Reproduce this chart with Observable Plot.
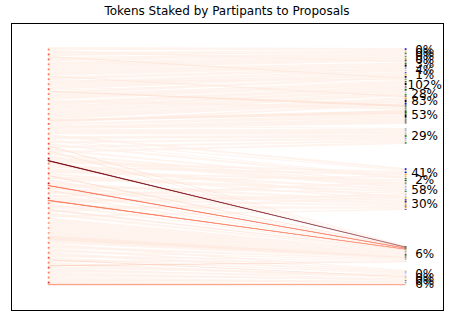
<!DOCTYPE html>
<html><head><meta charset="utf-8">
<script src="https://cdn.jsdelivr.net/npm/d3@7"></script>
<script src="https://cdn.jsdelivr.net/npm/@observablehq/plot@0.6"></script>
<style>
body{margin:0;background:#fff;font-family:"DejaVu Sans",sans-serif;}
#title{width:449px;height:22px;line-height:23px;text-align:center;font-size:12px;padding-left:5px;box-sizing:border-box;color:#000}
</style></head><body>
<div id="title">Tokens Staked by Partipants to Proposals</div>
<div id="chart"></div>
<script>
// Proposals, top to bottom on the right
const proposalLabels = ["0%","0%","0%","0%","3%","4%","1%","102%","28%","83%","53%","29%","41%","2%","58%","30%","6%","0%","0%","0%","6%"];
const proposalStake  = [3.5,3,3,3.5,6,4.5,6.5,13,5,9,19,16,9,6,14,13,16,6.5,2.5,2.5,3.5];
// Unstaked room left above some proposals (tokens)
const proposalRoomAbove = [1,0,0,0,0,0,0,0,0,0,0,4,24,0,0,0,36,8,0,0,0];
// Flows: [participant, proposal, tokens, intensity]
const flows = [
 [0,0,3],[0,4,2],
 [1,0,2],[1,1,2],[1,7,1,0.1],
 [2,1,2.3],[2,2,2],[2,6,0.7],
 [3,2,2.3],[3,3,2.7],
 [4,3,2.5],[4,4,2.5],
 [5,4,4],[5,9,1,0.08],
 [6,5,3.5],[6,7,1.5],
 [7,5,3],[7,6,2],
 [8,6,3],[8,7,1],[8,10,1,0.12],
 [9,6,3],[9,7,2],
 [10,7,3.5],[10,10,1.5],
 [11,7,4],[11,8,1],
 [12,7,3],[12,8,2],
 [13,8,3],[13,9,2],
 [14,9,3],[14,10,2,0.08],
 [15,9,2],[15,10,2],[15,11,1],
 [16,10,3],[16,11,2],
 [17,11,3],[17,12,2],
 [18,11,3],[18,12,1],[18,13,1],
 [19,11,2],[19,13,2],[19,16,1,0.12],
 [20,11,2],[20,14,2],[20,16,1,0.1],
 [21,11,2],[21,14,2],[21,16,1],
 [22,14,4.2],[22,16,0.8,0.97],
 [23,12,2],[23,15,3],
 [24,12,2],[24,14,3],
 [25,13,2],[25,15,2],[25,16,1,0.15],
 [26,14,3],[26,16,2],
 [27,12,1.4],[27,15,3],[27,16,0.6,0.5],
 [28,14,2],[28,15,2],[28,16,1,0.1],
 [29,15,3],[29,16,2],
 [30,13,2],[30,15,2.3],[30,16,0.7,0.45],
 [31,14,3],[31,16,2],
 [32,15,3],[32,16,2,0.08],
 [33,14,2],[33,16,3],
 [34,15,2],[34,16,3],
 [35,16,5],[36,16,5],[37,16,5],[38,16,5,0.08],
 [39,16,3],[39,17,2],
 [40,16,3],[40,17,2],
 [41,16,2],[41,17,3],
 [42,16,2],[42,17,2],[42,18,1,0.15],
 [43,16,2],[43,18,3],
 [44,16,1,0.2],[44,17,2],[44,19,2],
 [45,17,2],[45,19,3],
 [46,18,2],[46,20,3],
 [47,19,2],[47,20,2.2],[47,20,0.8,0.35]
];
const markerColors = ["#0000ff","#000000","#2e8b2e","#ffa500","#8a8a8a","#87a8ff","#000000","#006400","#c8c8c8"];

// ---- layout (derived from values) ----
const H = 238;
const nP = d3.max(flows, f => f[0]) + 1;
const F = flows.map(([p,j,v,s],i) => ({p, j, v, shade: s ?? 0.03, i}));
const T = d3.sum(F, f => f.v);
const kL = H / T;
let cursor = 0;
const partRows = [];
for (let p = 0; p < nP; p++) {
  const fs = F.filter(f => f.p === p).sort((a,b) => a.j - b.j || a.i - b.i);
  const y0 = cursor;
  for (const f of fs) { f.ly0 = cursor; cursor += f.v * kL; f.ly1 = cursor; }
  partRows.push({p, y0, y1: cursor, n: fs.length, maxShade: d3.max(fs, f => f.shade)});
}
const kR = (H - d3.sum(proposalRoomAbove)) / d3.sum(proposalStake);
let rc = 0;
const propRows = proposalLabels.map((label, j) => {
  rc += proposalRoomAbove[j] * kR;
  const y0 = rc, h = proposalStake[j] * kR; rc += h;
  const fs = F.filter(f => f.j === j).sort((a,b) => a.p - b.p || a.i - b.i);
  const tot = d3.sum(fs, f => f.v);
  let c = y0;
  for (const f of fs) { f.ry0 = c; c += h * f.v / tot; f.ry1 = c; }
  return {label, y0, y1: rc, cy: (y0 + rc) / 2};
});
const ordered = [...F].sort((a,b) => a.shade - b.shade);
const pts = ordered.flatMap(f => [
  {id: f.i, x: 0, y1: f.ly0, y2: f.ly1, c: d3.interpolateReds(f.shade), s: f.shade},
  {id: f.i, x: 1, y1: f.ry0, y2: f.ry1, c: d3.interpolateReds(f.shade), s: f.shade}
]);
const strong = pts.filter(d => d.s > 0.3);

const chart = Plot.plot({
  width: 449, height: 299,
  marginLeft: 11, marginRight: 6, marginTop: 1, marginBottom: 11,
  x: {domain: [-0.104, 1.106], axis: null},
  y: {domain: [H + 25, -24], axis: null},
  color: {type: "identity"},
  style: {fontFamily: "DejaVu Sans, sans-serif", background: "white"},
  marks: [
    Plot.area(pts, {x1: "x", y1: "y1", y2: "y2", z: "id", fill: "c", fillOpacity: 0.8, curve: "linear"}),
    Plot.area(strong, {x1: "x", y1: "y1", y2: "y2", z: "id", fill: "c", stroke: "c", strokeWidth: 0.4, strokeOpacity: 0.8, curve: "linear"}),
    Plot.ruleX(partRows, {x: 0, y1: "y0", y2: "y1", insetTop: 1.6, insetBottom: 1.6, strokeWidth: 1.8,
      stroke: d => d3.interpolateReds(0.22 + 0.1 * d.n + 0.45 * d.maxShade)}),
    Plot.ruleX(F, {x: 1, y1: "ry0", y2: "ry1", insetTop: 0.3, insetBottom: 0.3, strokeWidth: 1.8,
      stroke: f => markerColors[(f.p * 3 + f.j) % markerColors.length]}),
    Plot.text(propRows, {x: 1, y: "cy", text: "label", dx: 19, textAnchor: "middle", fontSize: 12, fill: "black"}),
    Plot.frame({stroke: "black", strokeWidth: 1})
  ]
});
document.getElementById("chart").appendChild(chart);
</script>
</body></html>
